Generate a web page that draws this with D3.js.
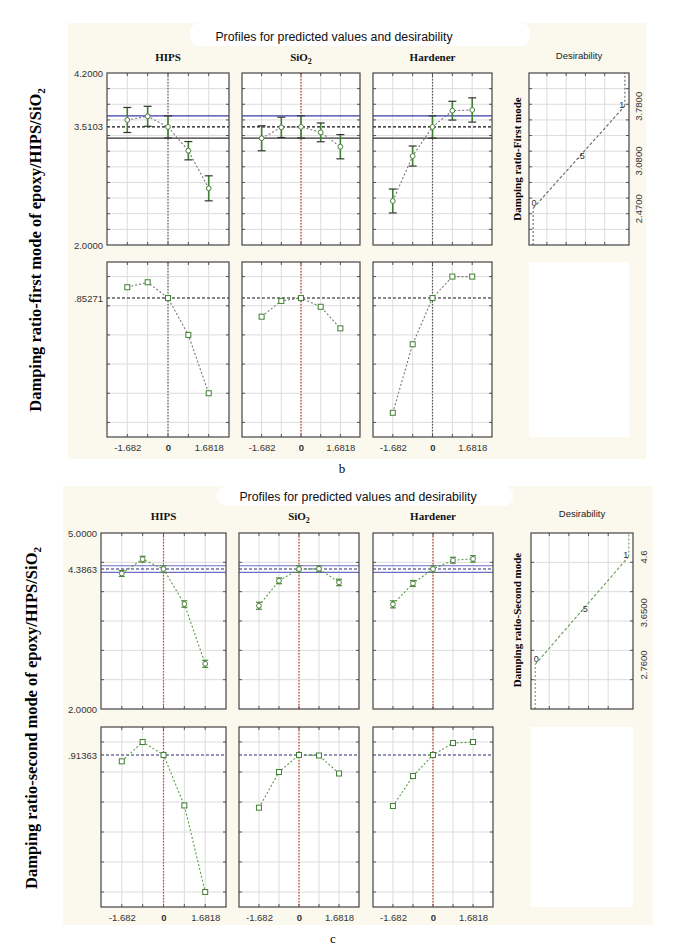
<!DOCTYPE html>
<html><head><meta charset="utf-8">
<script src="https://cdn.jsdelivr.net/npm/d3@7"></script>
<style>body{margin:0;background:#fff}</style>
</head><body><svg id="chart" width="685" height="952"></svg>
<script>
// ---------- shared ----------
const factors = ["HIPS", "SiO2", "Hardener"];
const levels = [-1.682, -0.841, 0, 0.841, 1.6818];
const xTickValues = [-1.682, 0, 1.6818];
const xTickLabels = ["-1.682", "0", "1.6818"];
const desGridD = [0.15, 0.36, 0.57, 0.78];
const desFnD = [0, 0.5, 1];
const desFnLabels = ["0", ".5", "1"];

// ---------- figure b : first mode ----------
const bYTitle = "Damping ratio-first mode of epoxy/HIPS/SiO";
const bDesTitle = "Damping ratio-First mode";
const bPredHIPS = [3.599, 3.646, 3.5103, 3.206, 2.725];
const bPredSiO2 = [3.365, 3.505, 3.5103, 3.441, 3.257];
const bPredHardener = [2.563, 3.138, 3.5103, 3.718, 3.727];
const bErrHIPS = [0.16, 0.128, 0.142, 0.117, 0.16];
const bErrSiO2 = [0.16, 0.13, 0.142, 0.12, 0.155];
const bErrHardener = [0.153, 0.128, 0.142, 0.12, 0.155];
const bDesHIPS = [0.927, 0.961, 0.85271, 0.6, 0.2];
const bDesSiO2 = [0.725, 0.833, 0.85271, 0.793, 0.645];
const bDesHardener = [0.066, 0.536, 0.85271, 1.0, 1.0];
const bCurrent = 3.5103, bLower = 3.368, bUpper = 3.652, bDesCurrent = 0.85271;
const bYRange = [2.0, 4.2], bGridStep = 0.2;
const bYTickValues = [2.0, 3.5103, 4.2];
const bYTickLabels = ["2.0000", "3.5103", "4.2000"];
const bDesTickLabel = ".85271";
const bDesFnValues = [2.47, 3.125, 3.78];
const bDesAxisValues = [2.47, 3.08, 3.78];
const bDesAxisLabels = ["2.4700", "3.0800", "3.7800"];

// ---------- figure c : second mode ----------
const cYTitle = "Damping ratio-second mode of epoxy/HIPS/SiO";
const cDesTitle = "Damping ratio-Second mode";
const cPredHIPS = [4.31, 4.553, 4.3863, 3.789, 2.77];
const cPredSiO2 = [3.76, 4.185, 4.3863, 4.39, 4.157];
const cPredHardener = [3.784, 4.14, 4.3863, 4.536, 4.558];
const cErrHIPS = [0.05, 0.05, 0.056, 0.055, 0.06];
const cErrSiO2 = [0.06, 0.05, 0.056, 0.05, 0.055];
const cErrHardener = [0.06, 0.05, 0.056, 0.05, 0.055];
const cDesHIPS = [0.871, 1.0, 0.91363, 0.577, 0.0];
const cDesSiO2 = [0.562, 0.8, 0.91363, 0.91, 0.79];
const cDesHardener = [0.573, 0.773, 0.91363, 0.993, 1.0];
const cCurrent = 4.3863, cLower = 4.33, cUpper = 4.442, cDesCurrent = 0.91363;
const cYRange = [2.0, 5.0], cGridStep = 0.5;
const cYTickValues = [2.0, 4.3863, 5.0];
const cYTickLabels = ["2.0000", "4.3863", "5.0000"];
const cDesTickLabel = ".91363";
const cDesFnValues = [2.76, 3.68, 4.6];
const cDesAxisValues = [2.76, 3.65, 4.6];
const cDesAxisLabels = ["2.7600", "3.6500", "4.6"];

const figTitle = "Profiles for predicted values and desirability";

// ---------- drawing ----------
const svg = d3.select("#chart");
const SANS = "'Liberation Sans', Arial, sans-serif";
const SERIF = "'Liberation Serif', 'Times New Roman', serif";

function subText(sel, base, sub, subSize, shift) {
  sel.append("tspan").text(base);
  sel.append("tspan").text(sub).attr("font-size", subSize).attr("dy", shift);
}

function drawFigure(L, D) {
  const g = svg.append("g");
  g.append("rect").attr("x", L.bg[0]).attr("y", L.bg[1])
    .attr("width", L.bg[2] - L.bg[0]).attr("height", L.bg[3] - L.bg[1])
    .attr("fill", "#fbf8ee");
  g.append("rect").attr("x", L.tbox[0]).attr("y", L.tbox[1])
    .attr("width", L.tbox[2] - L.tbox[0]).attr("height", L.tbox[3] - L.tbox[1])
    .attr("rx", 9).attr("fill", "#ffffff");
  g.append("text").attr("x", L.titleX).attr("y", L.titleY + 4)
    .attr("text-anchor", "middle").attr("font-family", SANS).attr("font-size", 12.3)
    .attr("fill", "#111").text(figTitle);

  const yt = g.append("text")
    .attr("transform", `translate(${L.ytX},${L.ytY}) rotate(-90)`)
    .attr("text-anchor", "middle").attr("font-family", SERIF).attr("font-weight", "bold")
    .attr("font-size", 16.5).attr("fill", "#000");
  subText(yt, D.yTitle, "2", 11, 4);

  g.append("text").attr("x", L.letter[0]).attr("y", L.letter[1])
    .attr("text-anchor", "middle").attr("font-family", SERIF).attr("font-size", 13)
    .attr("fill", "#000").text(L.letterText);

  const yTop = d3.scaleLinear().domain(D.yRange).range([L.top[1], L.top[0]]);
  const yBot = d3.scaleLinear().domain([-0.1, 1.1]).range([L.bot[1], L.bot[0]]);
  const hGridTop = d3.range(D.yRange[0] + D.gridStep, D.yRange[1] - 1e-6, D.gridStep);
  const hGridBot = [0, 0.2, 0.4, 0.6, 0.8, 1.0];

  function frame(x, y, xs, ys, x0, x1, y0, y1) {
    g.append("rect").attr("x", x0).attr("y", y0).attr("width", x1 - x0).attr("height", y1 - y0)
      .attr("fill", "#fff");
    g.selectAll(null).data(ys).enter().append("line")
      .attr("x1", x0).attr("x2", x1).attr("y1", d => y(d)).attr("y2", d => y(d))
      .attr("stroke", "#dcdcdc").attr("stroke-width", 1);
    g.selectAll(null).data(xs).enter().append("line")
      .attr("y1", y0).attr("y2", y1).attr("x1", d => x(d)).attr("x2", d => x(d))
      .attr("stroke", "#dcdcdc").attr("stroke-width", 1);
    ys.forEach(d => {
      g.append("line").attr("x1", x0).attr("x2", x0 + 3).attr("y1", y(d)).attr("y2", y(d)).attr("stroke", "#555");
      g.append("line").attr("x1", x1 - 3).attr("x2", x1).attr("y1", y(d)).attr("y2", y(d)).attr("stroke", "#555");
    });
    xs.forEach(d => {
      g.append("line").attr("y1", y0).attr("y2", y0 + 3).attr("x1", x(d)).attr("x2", x(d)).attr("stroke", "#555");
      g.append("line").attr("y1", y1 - 3).attr("y2", y1).attr("x1", x(d)).attr("x2", x(d)).attr("stroke", "#555");
    });
  }
  function border(x0, x1, y0, y1) {
    g.append("rect").attr("x", x0).attr("y", y0).attr("width", x1 - x0).attr("height", y1 - y0)
      .attr("fill", "none").attr("stroke", "#444").attr("stroke-width", 1.2);
  }

  factors.forEach((f, i) => {
    const [x0, x1] = L.xs[i];
    const x = d3.scaleLinear().domain([-2.52, 2.52]).range([x0, x1]);
    const pred = D.pred[i], err = D.err[i], des = D.des[i];
    const pts = levels.map((lv, k) => ({ lv, v: pred[k], e: err[k], d: des[k] }));

    const m = f.match(/^(.*?)(\d+)$/);
    const h = g.append("text").attr("x", (x0 + x1) / 2).attr("y", L.headerY + 4)
      .attr("text-anchor", "middle").attr("font-family", SERIF).attr("font-weight", "bold")
      .attr("font-size", 11).attr("fill", "#111");
    if (m) subText(h, m[1], m[2], 8, 3); else h.text(f);

    // ---- top panel ----
    frame(x, yTop, levels, hGridTop, x0, x1, L.top[0], L.top[1]);
    g.append("line").attr("x1", x(0)).attr("x2", x(0)).attr("y1", L.top[0]).attr("y2", L.top[1])
      .attr("stroke", L.vColors[i]).attr("stroke-width", 1.2).attr("stroke-dasharray", "1.5,1.5");
    g.append("line").attr("x1", x0).attr("x2", x1).attr("y1", yTop(D.upper)).attr("y2", yTop(D.upper))
      .attr("stroke", L.ciUpper).attr("stroke-width", 1.2);
    g.append("line").attr("x1", x0).attr("x2", x1).attr("y1", yTop(D.lower)).attr("y2", yTop(D.lower))
      .attr("stroke", L.ciLower).attr("stroke-width", 1.2);
    g.append("line").attr("x1", x0).attr("x2", x1).attr("y1", yTop(D.current)).attr("y2", yTop(D.current))
      .attr("stroke", L.dashColor).attr("stroke-width", 1.1).attr("stroke-dasharray", "3,2");
    g.append("path").datum(pts)
      .attr("d", d3.line().x(p => x(p.lv)).y(p => yTop(p.v)))
      .attr("fill", "none").attr("stroke", L.profColor).attr("stroke-width", 1.1)
      .attr("stroke-dasharray", "2,2");
    pts.forEach(p => {
      g.append("line").attr("x1", x(p.lv)).attr("x2", x(p.lv))
        .attr("y1", yTop(p.v - p.e)).attr("y2", yTop(p.v + p.e))
        .attr("stroke", "#3f7f30").attr("stroke-width", 1.6);
      [p.v - p.e, p.v + p.e].forEach(v => {
        g.append("line").attr("x1", x(p.lv) - L.capW).attr("x2", x(p.lv) + L.capW)
          .attr("y1", yTop(v)).attr("y2", yTop(v))
          .attr("stroke", L.capColor).attr("stroke-width", 1.2);
      });
      g.append("circle").attr("cx", x(p.lv)).attr("cy", yTop(p.v)).attr("r", 2.4)
        .attr("fill", "#fff").attr("stroke", "#4f7f40").attr("stroke-width", 1);
    });
    border(x0, x1, L.top[0], L.top[1]);

    // ---- bottom panel ----
    frame(x, yBot, levels, hGridBot, x0, x1, L.bot[0], L.bot[1]);
    g.append("line").attr("x1", x(0)).attr("x2", x(0)).attr("y1", L.bot[0]).attr("y2", L.bot[1])
      .attr("stroke", L.vColors[i]).attr("stroke-width", 1.2).attr("stroke-dasharray", "1.5,1.5");
    g.append("line").attr("x1", x0).attr("x2", x1).attr("y1", yBot(D.desCurrent)).attr("y2", yBot(D.desCurrent))
      .attr("stroke", L.dashColor).attr("stroke-width", 1.1).attr("stroke-dasharray", "3,2");
    g.append("path").datum(pts)
      .attr("d", d3.line().x(p => x(p.lv)).y(p => yBot(p.d)))
      .attr("fill", "none").attr("stroke", L.profColor).attr("stroke-width", 1.1)
      .attr("stroke-dasharray", "2,2");
    g.selectAll(null).data(pts).enter().append("rect")
      .attr("x", p => x(p.lv) - 2.5).attr("y", p => yBot(p.d) - 2.5)
      .attr("width", 5).attr("height", 5)
      .attr("fill", "#fff").attr("stroke", "#3f7f30").attr("stroke-width", 1);
    border(x0, x1, L.bot[0], L.bot[1]);

    const xa = g.append("g").attr("transform", `translate(0,${L.xTickY})`)
      .call(d3.axisBottom(x).tickValues(xTickValues)
        .tickFormat((d, k) => xTickLabels[k]).tickSize(0).tickPadding(0));
    xa.select(".domain").remove();
    xa.selectAll("text").attr("dy", "0.35em").attr("font-family", SANS).attr("font-size", 9.5)
      .attr("fill", "#333").attr("font-weight", d => d === 0 ? "bold" : "normal");
  });

  const ya = g.append("g").attr("transform", `translate(${L.tickRight},0)`)
    .call(d3.axisLeft(yTop).tickValues(D.yTickValues)
      .tickFormat((d, k) => D.yTickLabels[k]).tickSize(0).tickPadding(0));
  ya.select(".domain").remove();
  ya.selectAll("text").attr("font-family", SANS).attr("font-size", 9.5).attr("fill", "#333");
  const yb = g.append("g").attr("transform", `translate(${L.tickRight},0)`)
    .call(d3.axisLeft(yBot).tickValues([D.desCurrent])
      .tickFormat(() => D.desTickLabel).tickSize(0).tickPadding(0));
  yb.select(".domain").remove();
  yb.selectAll("text").attr("font-family", SANS).attr("font-size", 9.5).attr("fill", "#333");

  // ---- desirability column ----
  const [dx0, dx1] = L.des;
  const xd = d3.scaleLinear().domain([-0.045, 1.045]).range([dx0, dx1]);
  g.append("text").attr("x", (dx0 + dx1) / 2).attr("y", L.desHeaderY + 4)
    .attr("text-anchor", "middle").attr("font-family", SANS).attr("font-size", 9.5)
    .attr("fill", "#222").text("Desirability");
  frame(xd, yTop, desGridD, hGridTop, dx0, dx1, L.top[0], L.top[1]);
  const fn = desFnD.map((d, k) => ({ d, v: D.desFn[k], lab: desFnLabels[k] }));
  const lastV = fn[fn.length - 1].v, firstV = fn[0].v;
  const dotted = (a, b) => g.append("path").datum([a, b])
    .attr("d", d3.line().x(p => xd(p[0])).y(p => yTop(p[1])))
    .attr("fill", "none").attr("stroke", L.desLineColor).attr("stroke-width", 1.1)
    .attr("stroke-dasharray", "2,2");
  dotted([0, D.yRange[0]], [0, firstV]);
  dotted([1, lastV], [1, D.yRange[1]]);
  g.append("path").datum(fn)
    .attr("d", d3.line().x(p => xd(p.d)).y(p => yTop(p.v)))
    .attr("fill", "none").attr("stroke", L.desLineColor).attr("stroke-width", 1.1)
    .attr("stroke-dasharray", "3,2");
  g.selectAll(null).data(fn).enter().append("text")
    .attr("x", p => xd(p.d) + (p.d === 1 ? -3 : (p.d === 0 ? 1 : 2)))
    .attr("y", p => yTop(p.v) + (p.d === 0 ? -2 : 2))
    .attr("text-anchor", "middle").attr("font-family", SANS).attr("font-size", 9)
    .attr("fill", "#333").text(p => p.lab);
  border(dx0, dx1, L.top[0], L.top[1]);
  const ra = g.append("g").attr("transform", `translate(${dx1},0)`)
    .call(d3.axisRight(yTop).tickValues(D.desAxisValues)
      .tickFormat((d, k) => D.desAxisLabels[k]).tickSize(0).tickPadding(0));
  ra.select(".domain").remove();
  ra.selectAll("text").attr("x", 0).attr("dy", 0)
    .attr("transform", `translate(${L.desLabelDX},0) rotate(-90)`)
    .attr("text-anchor", "middle").attr("dominant-baseline", "central")
    .attr("font-family", SANS).attr("font-size", 9.5).attr("fill", "#333");
  g.append("text").attr("transform", `translate(${L.desTitleX},${(L.top[0] + L.top[1]) / 2 + L.desTitleDY}) rotate(-90)`)
    .attr("text-anchor", "middle").attr("dominant-baseline", "central")
    .attr("font-family", SERIF).attr("font-weight", "bold").attr("font-size", 11)
    .attr("fill", "#000").text(D.desTitle);
  g.append("rect").attr("x", dx0).attr("y", L.bot[0]).attr("width", dx1 - dx0)
    .attr("height", L.bot[1] - L.bot[0]).attr("fill", "#fff");
}

drawFigure({
  bg: [68, 23, 646, 459], tbox: [190, 23, 530, 46], titleX: 334, titleY: 37,
  headerY: 57, desHeaderY: 55, top: [73, 245], bot: [262, 437],
  xs: [[107, 229], [242, 360], [373, 492]], des: [529, 629],
  tickRight: 103, xTickY: 448, ytX: 41, ytY: 250, letter: [342, 473], letterText: "b",
  desTitleX: 517, desTitleDY: 0, desLabelDX: 9,
  vColors: ["#666", "#c0392b", "#555"], ciUpper: "#3b3ba8", ciLower: "#333",
  dashColor: "#111", profColor: "#777", capColor: "#333", capW: 4, desLineColor: "#666"
}, {
  yTitle: bYTitle, desTitle: bDesTitle,
  pred: [bPredHIPS, bPredSiO2, bPredHardener], err: [bErrHIPS, bErrSiO2, bErrHardener],
  des: [bDesHIPS, bDesSiO2, bDesHardener],
  current: bCurrent, lower: bLower, upper: bUpper, desCurrent: bDesCurrent,
  yRange: bYRange, gridStep: bGridStep, yTickValues: bYTickValues, yTickLabels: bYTickLabels,
  desTickLabel: bDesTickLabel, desFn: bDesFnValues,
  desAxisValues: bDesAxisValues, desAxisLabels: bDesAxisLabels
});

drawFigure({
  bg: [63, 486, 653, 925], tbox: [217, 486, 513, 506], titleX: 358, titleY: 497,
  headerY: 516, desHeaderY: 513, top: [533, 709], bot: [727, 907],
  xs: [[101, 226], [239, 359], [373, 493]], des: [531, 633],
  tickRight: 97, xTickY: 918, ytX: 37, ytY: 718, letter: [333, 943], letterText: "c",
  desTitleX: 517, desTitleDY: -1, desLabelDX: 10,
  vColors: ["#d04030", "#d04030", "#b04030"], ciUpper: "#6b6bc8", ciLower: "#6b6bc8",
  dashColor: "#2a2a6a", profColor: "#5a9a48", capColor: "#4a8a3a", capW: 3, desLineColor: "#6a9a58"
}, {
  yTitle: cYTitle, desTitle: cDesTitle,
  pred: [cPredHIPS, cPredSiO2, cPredHardener], err: [cErrHIPS, cErrSiO2, cErrHardener],
  des: [cDesHIPS, cDesSiO2, cDesHardener],
  current: cCurrent, lower: cLower, upper: cUpper, desCurrent: cDesCurrent,
  yRange: cYRange, gridStep: cGridStep, yTickValues: cYTickValues, yTickLabels: cYTickLabels,
  desTickLabel: cDesTickLabel, desFn: cDesFnValues,
  desAxisValues: cDesAxisValues, desAxisLabels: cDesAxisLabels
});
</script></body></html>
